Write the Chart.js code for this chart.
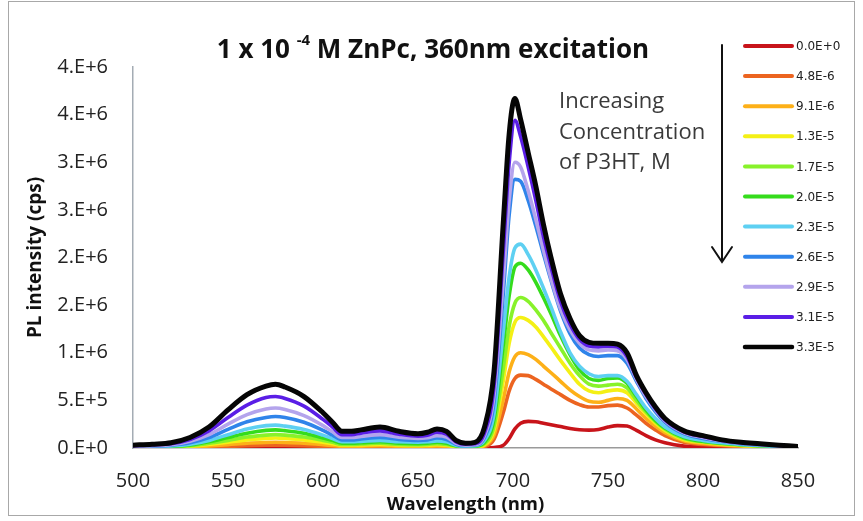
<!DOCTYPE html>
<html>
<head>
<meta charset="utf-8">
<script src="https://cdn.jsdelivr.net/npm/chart.js@4.4.1/dist/chart.umd.min.js"></script>
<style>
  html, body { margin: 0; padding: 0; background: #fff; }
  canvas { display: block; }
</style>
</head>
<body>
<canvas id="plChart" width="863" height="521"></canvas>
<script>
// Emission wavelengths (nm)
const wavelengths = [500,510,520,530,540,550,560,570,575,580,
  590,600,605,610,615,620,630,640,650,655,
  660,665,670,675,680,685,690,695,698,701,
  704,708,712,716,720,725,730,735,740,745,
  750,755,760,765,770,775,780,790,800,810,
  820,830,840,850];

// PL intensity (cps) for each P3HT concentration
const pl_0_0E0 = [0,0,500,1000,2000,3500,5000,6000,6000,6000,
  5000,3500,2500,2000,2000,2000,2000,2000,1500,1500,
  2000,1500,1000,1000,1000,2000,5000,3.0e4,1.0e5,2.0e5,
  2.6e5,2.8e5,2.75e5,2.6e5,2.45e5,2.25e5,2.05e5,1.92e5,1.88e5,1.95e5,
  2.2e5,2.35e5,2.3e5,1.85e5,1.3e5,8.5e4,5.5e4,2.0e4,8.0e3,4.0e3,
  2.0e3,1.0e3,0,0];
const pl_4_8E6 = [1.5e3,2.0e3,3.0e3,5.0e3,1.0e4,1.7e4,2.4e4,2.9e4,3.0e4,2.9e4,
  2.4e4,1.7e4,1.3e4,9.0e3,9.0e3,1.0e4,1.1e4,9.0e3,8.0e3,9.0e3,
  1.0e4,9.0e3,5.0e3,3.0e3,4.0e3,1.5e4,9.0e4,3.8e5,6.0e5,7.3e5,
  7.65e5,7.6e5,7.2e5,6.7e5,6.2e5,5.6e5,5.0e5,4.55e5,4.3e5,4.3e5,
  4.45e5,4.5e5,4.2e5,3.45e5,2.6e5,1.9e5,1.3e5,6.0e4,3.6e4,2.4e4,
  1.6e4,1.1e4,7.0e3,3.0e3];
const pl_9_1E6 = [3.0e3,4.0e3,6.0e3,1.1e4,2.2e4,3.5e4,5.0e4,5.8e4,6.0e4,5.8e4,
  5.0e4,3.5e4,2.6e4,1.8e4,1.8e4,2.0e4,2.3e4,1.8e4,1.6e4,1.8e4,
  2.1e4,1.8e4,9.0e3,6.0e3,8.0e3,2.5e4,1.35e5,5.2e5,8.0e5,9.6e5,
  1.0e6,9.8e5,9.3e5,8.6e5,7.9e5,7.0e5,6.1e5,5.4e5,4.9e5,4.8e5,
  5.0e5,5.2e5,5.0e5,4.1e5,3.1e5,2.3e5,1.6e5,7.5e4,4.8e4,3.2e4,
  2.2e4,1.6e4,1.0e4,4.0e3];
const pl_1_3E5 = [5.0e3,7.0e3,1.0e4,1.8e4,3.8e4,6.0e4,8.5e4,1.0e5,1.05e5,1.0e5,
  8.5e4,6.0e4,4.5e4,3.0e4,3.0e4,3.2e4,3.8e4,3.0e4,2.6e4,2.9e4,
  3.4e4,2.9e4,1.5e4,1.0e4,1.2e4,3.5e4,1.9e5,7.2e5,1.1e6,1.32e6,
  1.37e6,1.34e6,1.27e6,1.17e6,1.06e6,9.2e5,7.9e5,6.7e5,6.0e5,5.8e5,
  6.0e5,6.1e5,5.8e5,4.7e5,3.6e5,2.6e5,1.85e5,9.0e4,6.0e4,4.0e4,
  2.8e4,2.0e4,1.3e4,5.0e3];
const pl_1_7E5 = [6.0e3,9.0e3,1.4e4,2.5e4,5.0e4,8.0e4,1.15e5,1.35e5,1.4e5,1.35e5,
  1.15e5,8.0e4,6.0e4,3.8e4,3.8e4,4.2e4,5.0e4,3.8e4,3.4e4,3.8e4,
  4.5e4,3.8e4,2.0e4,1.2e4,1.5e4,4.5e4,2.3e5,8.5e5,1.28e6,1.52e6,
  1.58e6,1.54e6,1.45e6,1.34e6,1.21e6,1.05e6,8.9e5,7.6e5,6.7e5,6.5e5,
  6.6e5,6.7e5,6.3e5,5.0e5,3.8e5,2.8e5,2.0e5,1.0e5,6.5e4,4.5e4,
  3.2e4,2.2e4,1.5e4,6.0e3];
const pl_2_0E5 = [8.0e3,1.2e4,1.8e4,3.2e4,6.5e4,1.1e5,1.55e5,1.85e5,1.9e5,1.82e5,
  1.55e5,1.05e5,8.0e4,5.0e4,5.0e4,5.5e4,6.5e4,5.0e4,4.5e4,5.0e4,
  6.0e4,5.0e4,2.5e4,1.5e4,2.0e4,6.0e4,3.0e5,1.1e6,1.6e6,1.9e6,
  1.94e6,1.87e6,1.74e6,1.58e6,1.41e6,1.18e6,9.8e5,8.2e5,7.3e5,7.1e5,
  7.3e5,7.35e5,6.8e5,5.4e5,4.0e5,2.9e5,2.1e5,1.1e5,7.0e4,5.0e4,
  3.5e4,2.5e4,1.6e4,7.0e3];
const pl_2_3E5 = [1.0e4,1.5e4,2.2e4,4.0e4,8.0e4,1.4e5,2.0e5,2.35e5,2.4e5,2.3e5,
  1.95e5,1.35e5,1.0e5,6.5e4,6.5e4,7.0e4,8.0e4,6.5e4,6.0e4,6.5e4,
  7.5e4,6.5e4,3.0e4,2.0e4,2.5e4,8.0e4,3.6e5,1.25e6,1.8e6,2.1e6,
  2.14e6,2.03e6,1.87e6,1.68e6,1.48e6,1.22e6,1.0e6,8.6e5,7.8e5,7.5e5,
  7.6e5,7.6e5,7.0e5,5.6e5,4.2e5,3.1e5,2.2e5,1.2e5,8.0e4,5.5e4,
  3.8e4,2.7e4,1.8e4,8.0e3];
const pl_2_6E5 = [1.5e4,2.0e4,3.0e4,5.5e4,1.1e5,1.95e5,2.75e5,3.2e5,3.3e5,3.2e5,
  2.7e5,1.85e5,1.35e5,8.5e4,8.5e4,9.5e4,1.1e5,9.0e4,8.0e4,8.5e4,
  1.05e5,9.0e4,4.0e4,2.5e4,3.0e4,1.1e5,4.8e5,1.65e6,2.45e6,2.82e6,
  2.8e6,2.6e6,2.33e6,2.04e6,1.76e6,1.44e6,1.2e6,1.05e6,9.8e5,9.6e5,
  9.7e5,9.7e5,8.9e5,7.0e5,5.2e5,3.8e5,2.7e5,1.5e5,1.0e5,7.0e4,
  4.5e4,3.2e4,2.2e4,1.0e4];
const pl_2_9E5 = [2.0e4,2.5e4,3.5e4,7.0e4,1.4e5,2.5e5,3.5e5,4.1e5,4.2e5,4.05e5,
  3.4e5,2.35e5,1.7e5,1.1e5,1.1e5,1.2e5,1.4e5,1.12e5,1.0e5,1.08e5,
  1.3e5,1.15e5,5.0e4,3.0e4,3.5e4,1.3e5,5.5e5,1.8e6,2.6e6,3.0e6,
  2.95e6,2.7e6,2.4e6,2.08e6,1.78e6,1.46e6,1.24e6,1.1e6,1.03e6,1.02e6,
  1.03e6,1.02e6,9.3e5,7.2e5,5.4e5,4.0e5,2.85e5,1.6e5,1.1e5,7.5e4,
  5.0e4,3.5e4,2.5e4,1.2e4];
const pl_3_1E5 = [2.5e4,3.2e4,4.5e4,9.0e4,1.8e5,3.2e5,4.5e5,5.3e5,5.4e5,5.2e5,
  4.4e5,3.0e5,2.2e5,1.4e5,1.4e5,1.55e5,1.8e5,1.45e5,1.25e5,1.35e5,
  1.65e5,1.45e5,6.5e4,4.0e4,4.5e4,1.6e5,6.5e5,2.1e6,3.0e6,3.44e6,
  3.27e6,2.95e6,2.6e6,2.22e6,1.9e6,1.54e6,1.3e6,1.14e6,1.07e6,1.06e6,
  1.07e6,1.06e6,9.6e5,7.4e5,5.6e5,4.1e5,2.95e5,1.7e5,1.2e5,8.0e4,
  5.5e4,4.0e4,2.7e4,1.3e4];
const pl_3_3E5 = [3.0e4,4.0e4,5.5e4,1.1e5,2.2e5,4.0e5,5.6e5,6.5e5,6.7e5,6.4e5,
  5.4e5,3.7e5,2.7e5,1.75e5,1.75e5,1.9e5,2.2e5,1.75e5,1.5e5,1.65e5,
  2.0e5,1.75e5,8.0e4,5.0e4,6.0e4,2.2e5,8.0e5,2.4e6,3.3e6,3.67e6,
  3.45e6,3.1e6,2.75e6,2.35e6,2.0e6,1.62e6,1.36e6,1.18e6,1.11e6,1.1e6,
  1.1e6,1.09e6,1.0e6,7.6e5,5.8e5,4.3e5,3.1e5,1.8e5,1.3e5,8.5e4,
  6.0e4,4.5e4,3.0e4,1.5e4];

// Legend labels (P3HT concentration, M)
const concLabels = ['0.0E+0','4.8E-6','9.1E-6','1.3E-5','1.7E-5','2.0E-5',
  '2.3E-5','2.6E-5','2.9E-5','3.1E-5','3.3E-5'];
const seriesValues = [pl_0_0E0, pl_4_8E6, pl_9_1E6, pl_1_3E5, pl_1_7E5, pl_2_0E5,
  pl_2_3E5, pl_2_6E5, pl_2_9E5, pl_3_1E5, pl_3_3E5];

// Axis tick labels
const xTicks = [500, 550, 600, 650, 700, 750, 800, 850];
const yTickLabels = ['0.E+0','5.E+5','1.E+6','2.E+6','2.E+6','3.E+6','3.E+6','4.E+6','4.E+6'];

const lineColors = ['#c8141a','#ec6420','#fdb018','#f4f015','#88f22a','#35dc1c',
  '#5ed0f2','#2f84ea','#b4a4ec','#5a1ee6','#050505'];

const datasets = seriesValues.map((vals, i) => ({
  label: concLabels[i],
  data: wavelengths.map((w, j) => ({ x: w, y: vals[j] })),
  borderColor: lineColors[i],
  backgroundColor: lineColors[i],
  borderWidth: i === seriesValues.length - 1 ? 5 : 3.6,
  pointRadius: 0,
  cubicInterpolationMode: 'monotone',
  borderJoinStyle: 'round',
  borderCapStyle: 'round',
  fill: false,
  order: seriesValues.length - 1 - i
}));

const FONT = "'Open Sans', 'Liberation Sans', sans-serif";

const decorPlugin = {
  id: 'decor',
  beforeDraw(chart) {
    const ctx = chart.ctx;
    ctx.save();
    ctx.fillStyle = '#ffffff';
    ctx.fillRect(0, 0, chart.width, chart.height);
    ctx.restore();
  },
  afterDraw(chart) {
    const ctx = chart.ctx;
    ctx.save();

    // outer chart frame
    ctx.strokeStyle = '#a8a8a8';
    ctx.lineWidth = 1;
    ctx.strokeRect(8.5, 1.5, 846, 514);

    // title with superscript exponent
    const big = "bold 26px " + FONT;
    const small = "bold 15px " + FONT;
    const p1 = '1 x 10 ', p2 = '-4', p3 = ' M ZnPc, 360nm excitation';
    ctx.font = big; const w1 = ctx.measureText(p1).width; const w3 = ctx.measureText(p3).width;
    ctx.font = small; const w2 = ctx.measureText(p2).width;
    let tx = 433 - (w1 + w2 + w3) / 2;
    const ty = 51;
    ctx.fillStyle = '#111';
    ctx.textBaseline = 'middle';
    ctx.textAlign = 'left';
    ctx.font = big; ctx.fillText(p1, tx, ty); tx += w1;
    ctx.font = small; ctx.fillText(p2, tx, ty - 10); tx += w2;
    ctx.font = big; ctx.fillText(p3, tx, ty);

    // annotation
    ctx.font = "22px " + FONT;
    ctx.fillStyle = '#3a3a3a';
    ['Increasing', 'Concentration', 'of P3HT, M'].forEach((t, i) => {
      ctx.fillText(t, 559, 102 + i * 30.5);
    });

    // downward arrow
    ctx.strokeStyle = '#111';
    ctx.lineWidth = 2;
    ctx.lineCap = 'round';
    ctx.beginPath();
    ctx.moveTo(722, 45); ctx.lineTo(722, 261);
    ctx.moveTo(712, 247); ctx.lineTo(722, 262); ctx.lineTo(732, 247);
    ctx.stroke();

    // legend
    ctx.font = "12px 'DejaVu Sans', sans-serif";
    ctx.fillStyle = '#222';
    chart.data.datasets.forEach((ds, i) => {
      const y = 46 + i * 30.1;
      ctx.strokeStyle = ds.borderColor;
      ctx.lineWidth = i === chart.data.datasets.length - 1 ? 4.5 : 4;
      ctx.beginPath();
      ctx.moveTo(745, y); ctx.lineTo(792, y);
      ctx.stroke();
      ctx.fillText(ds.label, 796, y + 1);
    });
    ctx.restore();
  }
};

new Chart(document.getElementById('plChart'), {
  type: 'line',
  data: { datasets },
  options: {
    responsive: false,
    animation: false,
    devicePixelRatio: 1,
    layout: { padding: { left: 0, top: 67, right: 65, bottom: 0 } },
    plugins: { legend: { display: false }, tooltip: { enabled: false } },
    scales: {
      x: {
        type: 'linear',
        min: 500, max: 850,
        afterBuildTicks(scale) { scale.ticks = xTicks.map(v => ({ value: v })); },
        afterFit(scale) { scale.height = 73; },
        grid: { display: false, drawTicks: false },
        border: { display: true, color: '#9a9a9a', width: 1.5 },
        ticks: { font: { family: FONT, size: 20 }, color: '#222', padding: 21 },
        title: { display: true, text: 'Wavelength (nm)', color: '#111',
          font: { family: FONT, size: 18.5, weight: 'bold' }, padding: { top: 0, bottom: 5 } }
      },
      y: {
        min: 0, max: 4e6,
        afterBuildTicks(scale) { scale.ticks = yTickLabels.map((t, i) => ({ value: i * 5e5 })); },
        afterFit(scale) { scale.width = 133; },
        grid: { display: false, drawTicks: false },
        border: { display: true, color: '#a4acb4', width: 1.5 },
        ticks: { font: { family: FONT, size: 20 }, color: '#222', padding: 25,
          callback: (v, i) => yTickLabels[i] },
        title: { display: true, text: 'PL intensity (cps)', color: '#111',
          font: { family: FONT, size: 19, weight: 'bold' }, padding: { top: 24, bottom: 0 } }
      }
    }
  },
  plugins: [decorPlugin]
});
</script>
</body>
</html>
